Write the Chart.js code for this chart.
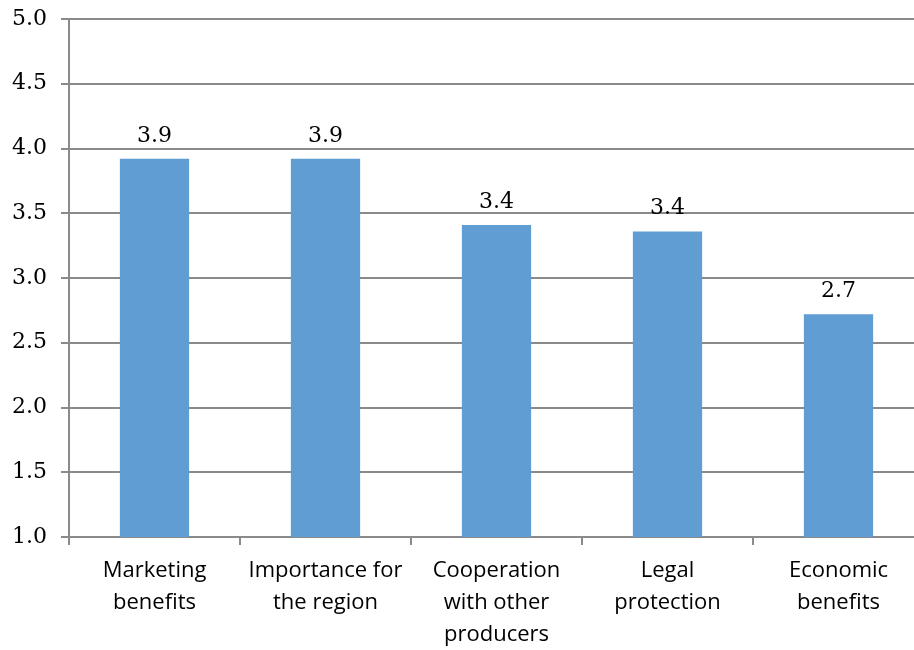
<!DOCTYPE html>
<html>
<head>
<meta charset="utf-8">
<script src="https://cdn.jsdelivr.net/npm/chart.js@4"></script>
<style>
  html, body { margin: 0; padding: 0; background: #fff; overflow: hidden; }
  #wrap { width: 930px; height: 650px; }
</style>
</head>
<body>
<div id="wrap"><canvas id="chart" width="930" height="650"></canvas></div>
<script>
  // chart data
  const categories = [
    ['Marketing', 'benefits'],
    ['Importance for', 'the region'],
    ['Cooperation', 'with other', 'producers'],
    ['Legal', 'protection'],
    ['Economic', 'benefits']
  ];
  const scores = [3.92, 3.92, 3.41, 3.36, 2.72];
  const yTicks = [1.0, 1.5, 2.0, 2.5, 3.0, 3.5, 4.0, 4.5, 5.0];

  const gridColor = '#8a8a8a';

  // value labels above the bars
  const barValueLabels = {
    id: 'barValueLabels',
    afterDatasetsDraw: (chart) => {
      const ctx = chart.ctx;
      const meta = chart.getDatasetMeta(0);
      ctx.save();
      ctx.font = '22px "DejaVu Serif"';
      ctx.fillStyle = '#000';
      ctx.textAlign = 'center';
      ctx.textBaseline = 'bottom';
      meta.data.forEach((bar, i) => {
        ctx.fillText(scores[i].toFixed(1), bar.x, bar.y - 12);
      });
      ctx.restore();
    }
  };

  const ctx = document.getElementById('chart').getContext('2d');
  new Chart(ctx, {
    type: 'bar',
    data: {
      labels: categories,
      datasets: [{
        data: scores,
        backgroundColor: '#5f9dd2',
        borderWidth: 0,
        barPercentage: 0.405,
        categoryPercentage: 1.0
      }]
    },
    options: {
      responsive: false,
      animation: false,
      layout: { padding: { top: 19, right: 6, left: 0, bottom: 0 } },
      plugins: {
        legend: { display: false },
        tooltip: { enabled: false }
      },
      scales: {
        x: {
          grid: {
            offset: true,
            drawOnChartArea: false,
            drawTicks: true,
            tickLength: 8,
            color: gridColor,
            lineWidth: 2
          },
          border: { color: gridColor, width: 2 },
          ticks: {
            color: '#000',
            font: { family: '"Open Sans"', size: 22, lineHeight: 1.45 },
            padding: 10,
            maxRotation: 0,
            autoSkip: false
          },
          afterFit: (scale) => { scale.height = 113; }
        },
        y: {
          min: 1,
          max: 5,
          afterBuildTicks: (scale) => {
            scale.ticks = yTicks.map(v => ({ value: v }));
          },
          grid: {
            color: gridColor,
            lineWidth: 2,
            tickLength: 8
          },
          border: { color: gridColor, width: 2 },
          ticks: {
            color: '#000',
            font: { family: '"DejaVu Serif"', size: 22 },
            padding: 14,
            callback: (v) => Number(v).toFixed(1)
          },
          afterFit: (scale) => {
            scale.width = 69;
            scale.paddingTop = 0;
            scale.paddingBottom = 0;
          }
        }
      }
    },
    plugins: [barValueLabels]
  });
</script>
</body>
</html>
